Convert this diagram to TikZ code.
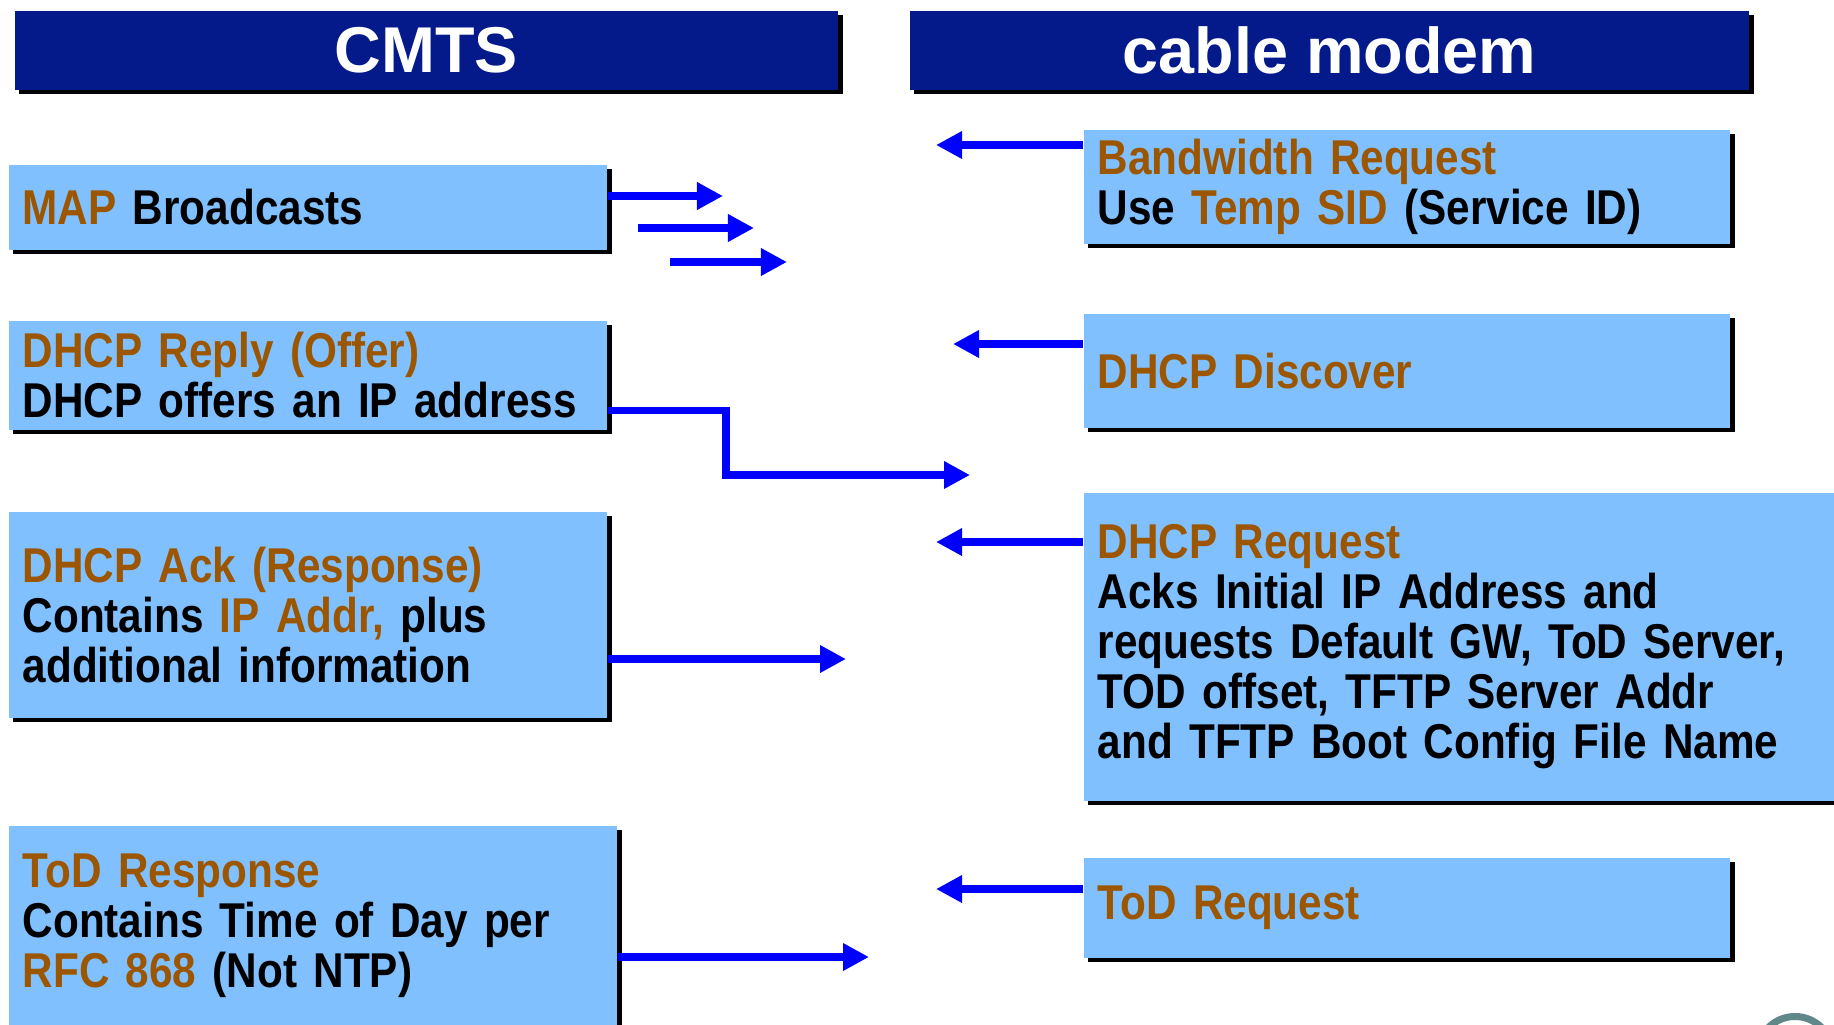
\documentclass[tikz,border=0pt]{standalone}
\usepackage{fontspec}
\setmainfont{Liberation Sans}
\newfontfamily\narrowsans{Liberation Sans}[FakeStretch=0.865, WordSpace=0.7]
\usetikzlibrary{arrows.meta, calc, shadows}
\definecolor{HeadBlue}{RGB}{4,26,138}
\definecolor{BoxBlue}{RGB}{128,192,255}
\definecolor{KeyBrown}{RGB}{156,86,0}
\definecolor{MsgBlue}{RGB}{0,0,255}
\definecolor{LogoTeal}{RGB}{96,136,136}
\newcommand{\kw}[1]{\textcolor{KeyBrown}{#1}}

\tikzset{
  boxshadow/.style={drop shadow={shadow xshift=0.045cm, shadow yshift=-0.045cm, fill=black, opacity=1}},
  header/.style={rectangle, fill=HeadBlue, text=white, anchor=north west, inner sep=0pt,
                 minimum height=0.79cm, font=\bfseries\fontsize{18.4}{20}\selectfont, boxshadow},
  msgbox/.style={rectangle, fill=BoxBlue, anchor=north west, inner xsep=0.14cm, inner ysep=0pt,
                 align=left, text width=#1, font=\narrowsans\bfseries\fontsize{13.9}{14.2}\selectfont, boxshadow},
  msg/.style={draw=MsgBlue, line width=0.072cm, -{Triangle[length=0.26cm, width=0.26cm]}}
}

\begin{document}
\begin{tikzpicture}[x=0.01cm, y=-0.01cm]
\useasboundingbox (0,0) rectangle (1834,1024);

% ================= columnas =================
\node[header, minimum width=8.23cm] (cmts) at (14,10) {CMTS};
\node[header, minimum width=8.39cm] (modem) at (909,10) {cable modem};

% ================= lado CMTS =================
\node[msgbox=5.70cm, minimum height=0.85cm] (map) at (8,164) {\kw{MAP} Broadcasts};
\node[msgbox=5.70cm, minimum height=1.09cm] (offer) at (8,320)
  {\kw{DHCP Reply (Offer)}\\DHCP offers an IP address};
\node[msgbox=5.70cm, minimum height=2.06cm] (ack) at (8,511)
  {\kw{DHCP Ack (Response)}\\Contains \kw{IP Addr,} plus\\additional information};
\node[msgbox=5.80cm, minimum height=2.00cm] (todresp) at (8,825)
  {\kw{ToD Response}\\Contains Time of Day per\\\kw{RFC 868} (Not NTP)};

% ================= lado cable modem =================
\node[msgbox=6.18cm, minimum height=1.14cm] (bwreq) at (1083,129)
  {\kw{Bandwidth Request}\\Use \kw{Temp SID} (Service ID)};
\node[msgbox=6.18cm, minimum height=1.14cm] (discover) at (1083,313) {\kw{DHCP Discover}};
\node[msgbox=7.39cm, minimum height=3.08cm] (request) at (1083,492)
  {\kw{DHCP Request}\\Acks Initial IP Address and\\requests Default GW, ToD Server,\\TOD offset, TFTP Server Addr\\and TFTP Boot Config File Name};
\node[msgbox=6.18cm, minimum height=1.00cm] (todreq) at (1083,857) {\kw{ToD Request}};

% ================= mensajes =================
\coordinate (mapA) at (723,196);
\coordinate (mapB0) at (638,228);
\coordinate (mapB) at (754,228);
\coordinate (mapC0) at (670,262);
\coordinate (mapC) at (787,262);
\draw[msg] (map.east |- mapA) -- (mapA);
\draw[msg] (mapB0) -- (mapB);
\draw[msg] (mapC0) -- (mapC);

\coordinate (bwEnd) at (936,145);
\draw[msg] (bwreq.west |- bwEnd) -- (bwEnd);

\coordinate (discEnd) at (953,344);
\draw[msg] (discover.west |- discEnd) -- (discEnd);

\coordinate (offerBend) at (726,475);
\coordinate (offerEnd) at (970,475);
\draw[msg] ([yshift=0.2cm]offer.south east) -| (offerBend) -- (offerEnd);

\coordinate (reqEnd) at (936,542);
\draw[msg] (request.west |- reqEnd) -- (reqEnd);

\coordinate (ackEnd) at (846,659);
\draw[msg] (ack.east |- ackEnd) -- (ackEnd);

\coordinate (todqEnd) at (936,889);
\draw[msg] (todreq.west |- todqEnd) -- (todqEnd);

\coordinate (todrEnd) at (869,957);
\draw[msg] (todresp.east |- todrEnd) -- (todrEnd);

% logo recortado en la esquina
\draw[LogoTeal, line width=0.07cm] (1795,1054) circle (0.375cm);

\end{tikzpicture}
\end{document}
